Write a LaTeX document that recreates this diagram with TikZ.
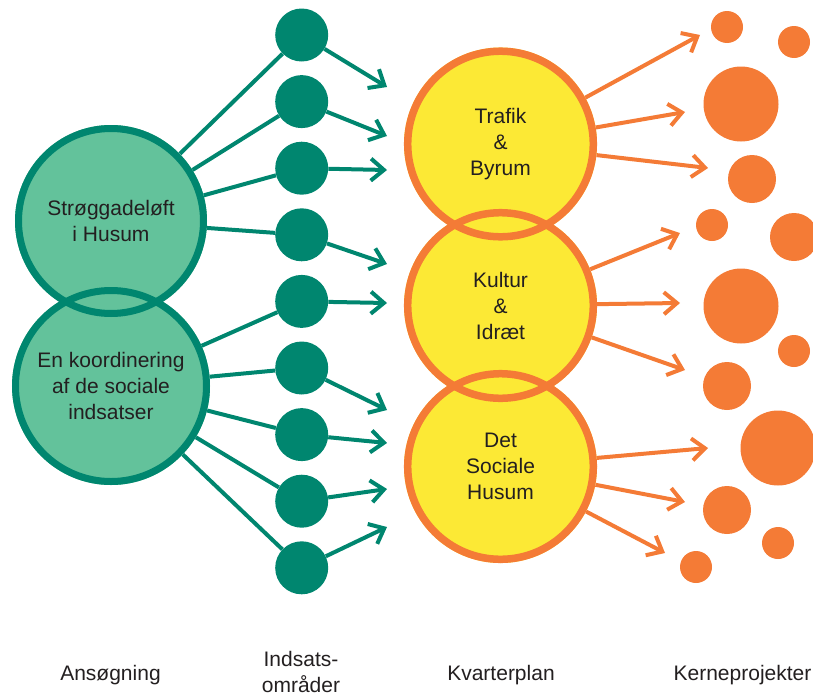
\documentclass[tikz,border=0pt]{standalone}
\usepackage{fontspec}
\setmainfont{Liberation Sans}
\usetikzlibrary{arrows.meta}
\definecolor{tealc}{HTML}{00866F}
\definecolor{mint}{HTML}{63C29B}
\definecolor{orng}{HTML}{F47B36}
\definecolor{yell}{HTML}{FCE935}
\definecolor{ink}{HTML}{231F20}
\begin{document}
\begin{tikzpicture}[x=1pt,y=-1pt,
  txt/.style={font=\fontsize{21}{26}\selectfont, text=ink, align=center},
  greenbig/.style={circle, fill=mint, inner sep=0pt, txt},
  yellbig/.style={circle, fill=yell, inner sep=0pt, txt},
  greenring/.style={draw=tealc, line width=7pt},
  yellring/.style={draw=orng, line width=7.5pt},
  tdot/.style={circle, fill=tealc, inner sep=0pt, minimum size=53pt},
  odot/.style={circle, fill=orng, inner sep=0pt, minimum size=#1},
  gline/.style={draw=tealc, line width=4pt},
  garrow/.style={gline, -{Straight Barb[length=13pt,width=22pt]}},
  oarrow/.style={draw=orng, line width=4pt, -{Straight Barb[length=13pt,width=22pt]}},
  label/.style={txt}
]
\useasboundingbox (0,0) rectangle (813,696);

% Ansoegning circles
\node[greenbig, minimum size=192pt] (A) at (111,221) {Strøggadeløft\\i Husum};
\node[greenbig, minimum size=198pt] (B) at (111,386) {En koordinering\\af de sociale\\indsatser};
\draw[greenring] (A.center) circle[radius=92.5pt];
\draw[greenring] (B.center) circle[radius=95.5pt];

% Indsatsomraader dots
\foreach \i/\y in {0/35,1/101.6,2/168.2,3/234.8,4/301.4,5/368,6/434.6,7/501.2,8/567.8}
  \node[tdot] (s\i) at (301.7,\y) {};

% connectors from applications to areas
\foreach \i in {0,1,2,3} \draw[gline] (A) -- (s\i);
\foreach \i in {4,5,6,7,8} \draw[gline] (B) -- (s\i);

% arrow tips toward Kvarterplan
\coordinate (g0) at (387,87);
\coordinate (g1) at (387,136);
\coordinate (g2) at (387,170);
\coordinate (g3) at (387,264);
\coordinate (g4) at (387,303);
\coordinate (g5) at (387,410);
\coordinate (g6) at (387,443);
\coordinate (g7) at (387,489);
\coordinate (g8) at (387,527);
\foreach \i in {0,...,8} \draw[garrow] (s\i) -- (g\i);

% Kvarterplan circles
\node[yellbig, minimum size=193pt] (T) at (500.5,144) {Trafik\\\&\\Byrum};
\node[yellbig, minimum size=193pt] (K) at (500.5,305.5) {Kultur\\\&\\Idræt};
\node[yellbig, minimum size=193pt] (S) at (500.5,466.5) {Det\\Sociale\\Husum};
\draw[yellring] (T.center) circle[radius=92.8pt];
\draw[yellring] (K.center) circle[radius=92.8pt];
\draw[yellring] (S.center) circle[radius=92.8pt];

% orange arrow tips
\coordinate (t1) at (700,35);
\coordinate (t2) at (685,112);
\coordinate (t3) at (708,168);
\coordinate (k1) at (680,233);
\coordinate (k2) at (680,303);
\coordinate (k3) at (685,370);
\coordinate (d1) at (708,448);
\coordinate (d2) at (685,502);
\coordinate (d3) at (665,553);
\draw[oarrow] (T) -- (t1);
\draw[oarrow] (T) -- (t2);
\draw[oarrow] (T) -- (t3);
\draw[oarrow] (K) -- (k1);
\draw[oarrow] (K) -- (k2);
\draw[oarrow] (K) -- (k3);
\draw[oarrow] (S) -- (d1);
\draw[oarrow] (S) -- (d2);
\draw[oarrow] (S) -- (d3);

% Kerneprojekter dots
\node[odot=32pt] (p1) at (727,27) {};
\node[odot=32pt] (p2) at (794,42) {};
\node[odot=75pt] (p3) at (741,104) {};
\node[odot=48pt] (p4) at (752,179) {};
\node[odot=32pt] (p5) at (712,225) {};
\node[odot=48pt] (p6) at (794,237) {};
\node[odot=75pt] (p7) at (741,306) {};
\node[odot=32pt] (p8) at (794,351) {};
\node[odot=48pt] (p9) at (727,386) {};
\node[odot=75pt] (p10) at (778,448) {};
\node[odot=48pt] (p11) at (727,510) {};
\node[odot=32pt] (p12) at (778,543) {};
\node[odot=32pt] (p13) at (696,567) {};

% column labels
\node[label, anchor=base] (l1) at (110.5,680) {Ansøgning};
\node[label] (l2) at (301,672.4) {Indsats-\\områder};
\node[label, anchor=base] (l3) at (501,680) {Kvarterplan};
\node[label, anchor=base] (l4) at (742.5,680) {Kerneprojekter};
\end{tikzpicture}
\end{document}
